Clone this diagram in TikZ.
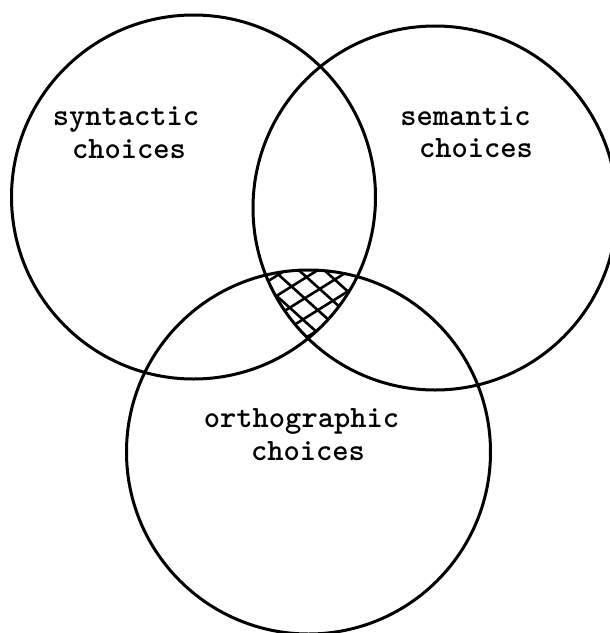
\documentclass[tikz,border=0pt]{standalone}
\usepackage{fontspec}
\begin{document}
\begin{tikzpicture}[x=1pt,y=-1pt,
  ring/.style={line width=3pt},
  hatch/.style={line width=2.6pt},
  lbl/.style={font=\ttfamily\bfseries\fontsize{31}{34}\selectfont, inner sep=0pt, anchor=base}]
\useasboundingbox (0,0) rectangle (610,633);
\coordinate (cs) at (193.5,197);
\coordinate (cm) at (435,208);
\coordinate (co) at (308.5,452);
\draw[ring] (cs) circle[radius=182];
\draw[ring] (cm) circle[radius=182];
\draw[ring] (co) circle[radius=182];
\begin{scope}
  \clip (cs) circle[radius=182];
  \clip (cm) circle[radius=182];
  \clip (co) circle[radius=182];
  \begin{scope}[shift={(310,295)}, rotate=32]
    \foreach \k in {-6,...,6} \draw[hatch] (-120,\k*17) -- (120,\k*17);
  \end{scope}
  \begin{scope}[shift={(310,295)}, rotate=-42]
    \foreach \k in {-6,...,6} \draw[hatch] (-120,\k*17+6) -- (120,\k*17+6);
  \end{scope}
\end{scope}
\node[lbl] (syn1) at (126,125) {syntactic};
\node[lbl] (syn2) at (129,158) {choices};
\node[lbl] (sem1) at (465.5,125) {semantic};
\node[lbl] (sem2) at (476,157) {choices};
\node[lbl] (ort1) at (301.5,427) {orthographic};
\node[lbl] (ort2) at (308,460) {choices};
\end{tikzpicture}
\end{document}
